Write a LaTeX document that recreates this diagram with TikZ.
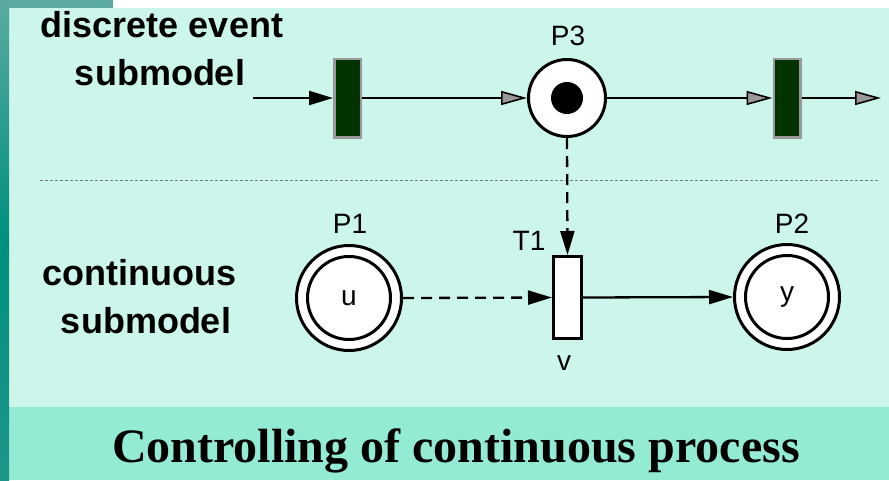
\documentclass[tikz,border=0pt]{standalone}
\usepackage{fontspec}
\setmainfont{Liberation Serif}
\newfontfamily\lsans{Liberation Sans}
\usetikzlibrary{arrows.meta}
\definecolor{bgmain}{HTML}{CCF5EC}
\definecolor{band}{HTML}{94EBD4}
\definecolor{stripA}{HTML}{5AAAA0}
\definecolor{stripB}{HTML}{00907F}
\definecolor{stripC}{HTML}{1E968A}
\definecolor{transgreen}{HTML}{003300}
\definecolor{transborder}{HTML}{999999}
\definecolor{headgray}{HTML}{999999}
\definecolor{sepgray}{HTML}{777777}
\begin{document}
\begin{tikzpicture}[x=1pt,y=-1pt,
  trans/.style={draw=transborder, fill=transgreen, line width=2.5pt, minimum width=26.5pt, minimum height=78.5pt, inner sep=0pt},
  ttrans/.style={draw=black, fill=white, line width=3pt, minimum width=28pt, minimum height=82pt, inner sep=0pt},
  place/.style={circle, draw=black, fill=white, line width=3pt, minimum size=77pt, inner sep=0pt},
  outerc/.style={circle, draw=black, fill=white, line width=3pt, minimum size=105pt, inner sep=0pt},
  innerc/.style={circle, draw=black, fill=white, line width=3pt, minimum size=83pt, inner sep=0pt, font=\lsans\fontsize{28}{32}\selectfont},
  token/.style={circle, fill=black, minimum size=32pt, inner sep=0pt},
  lbl/.style={font=\lsans\fontsize{28}{32}\selectfont, inner sep=0pt, anchor=base},
  sub/.style={font=\lsans\bfseries\fontsize{36}{44}\selectfont, inner sep=0pt, anchor=base},
  arr/.style={line width=2.3pt, -{Triangle[length=24pt, width=14pt]}},
  garr/.style={line width=2.3pt, -{Triangle[length=26pt, width=14pt, fill=headgray, line width=1.6pt]}},
  dsh/.style={dash pattern=on 11pt off 7pt},
  sepline/.style={draw=sepgray, line width=0.8pt, dash pattern=on 3pt off 2pt}
]
\useasboundingbox (0,0) rectangle (889,480);
% background
\fill[white] (0,0) rectangle (889,480);
\fill[bgmain] (9,8) rectangle (889,407);
\fill[band] (9,407) rectangle (889,480);
\fill[stripA] (0,0) rectangle (113,8);
\shade[top color=stripA, bottom color=stripC, middle color=stripB] (0,0) rectangle (9,480);

% side texts
\node[sub] (de) at (162,37) {discrete event};
\node[sub] (sm1) at (160,85) {submodel};
\node[sub] (cn) at (139,285) {continuous};
\node[sub] (sm2) at (146,333) {submodel};

% separator
\coordinate (sepL) at (40,180);
\coordinate (sepR) at (880,180);
\draw[sepline] (sepL) -- (sepR);

% discrete event submodel
\node[trans] (ta) at (347.5,98) {};
\node[place] (p3) at (567,98) {};
\node[token] (tok) at (p3) {};
\node[trans] (tb) at (787,98) {};
\node[lbl] (p3l) at (568,45) {P3};
\coordinate (in) at (253,98);
\coordinate (out) at (881,98);
\draw[arr] (in) -- (ta.west);
\draw[garr] (ta.east) -- (p3.west);
\draw[garr] (p3.east) -- (tb.west);
\draw[garr] (tb.east) -- (out);

% continuous submodel
\node[outerc] (p1) at (349,298) {};
\node[innerc] (p1i) at (p1) {u};
\node[lbl] (p1l) at (350,233) {P1};
\node[ttrans] (t1) at (567.5,297.5) {};
\node[lbl] (t1l) at (529,250) {T1};
\node[lbl] (vl) at (564,370) {v};
\node[outerc] (p2) at (787,297) {};
\node[innerc] (p2i) at (p2) {y};
\node[lbl] (p2l) at (792,233) {P2};

\draw[arr, dsh] (p3.south) -- (t1.north);
\draw[arr, dsh] (p1.east) -- (t1.west);
\draw[arr] (t1.east) -- (p2.west);

% title
\node[font=\bfseries\fontsize{48}{56}\selectfont, inner sep=0pt, anchor=base] (title) at (456,462) {Controlling of continuous process};
\end{tikzpicture}
\end{document}
